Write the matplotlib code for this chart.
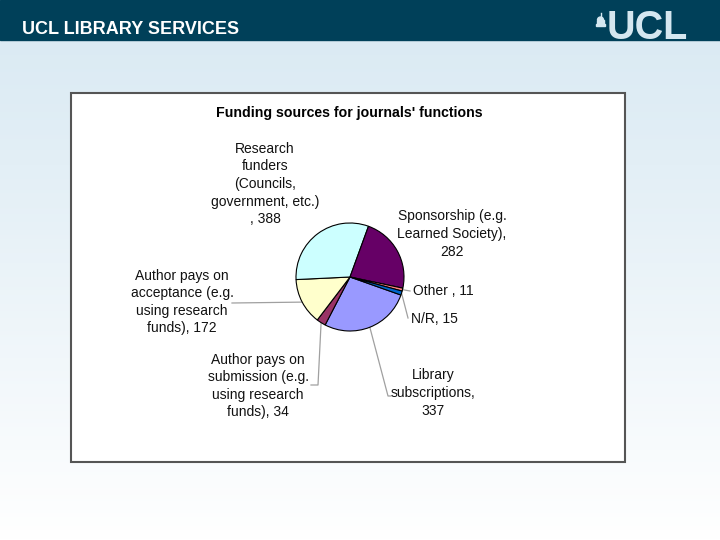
import numpy as np
import matplotlib
matplotlib.use('Agg')
import matplotlib.pyplot as plt
from matplotlib.patches import Rectangle, Wedge

plt.rcParams['font.family'] = ['Liberation Sans', 'DejaVu Sans']

# Dane (kolejnosc serii jak w arkuszu)
kategorie = ['Library\nsubscriptions,\n337',
             'Author pays on\nsubmission (e.g.\nusing research\nfunds), 34',
             'Author pays on\nacceptance (e.g.\nusing research\nfunds), 172',
             'Research\nfunders\n(Councils,\ngovernment, etc.)\n, 388',
             'Sponsorship (e.g.\nLearned Society),\n282',
             'Other , 11',
             'N/R, 15']
wartosci = [337, 34, 172, 388, 282, 11, 15]
kolory = ['#9999FF', '#993366', '#FFFFCC', '#CCFFFF', '#660066', '#FF8080', '#0066CC']
tytul = "Funding sources for journals' functions"

# Uklad (piksele, os y do gory)
W, H = 720, 540
srodek = (350, 263)
promien = 54
# pozycja etykiety, wyrownanie, punkty linii prowadzacej
etykiety = [
    ((433, 147), 'center', [(388, 144), (391, 144)]),
    ((258, 154), 'center', [(318, 155), (311, 155)]),
    ((182, 238), 'center', [(232, 237)]),
    ((265, 356), 'center', None),
    ((452, 306), 'center', None),
    ((413, 249), 'left', [(410, 249)]),
    ((411, 221), 'left', [(408, 222)]),
]

fig = plt.figure(figsize=(7.2, 5.4), dpi=100)
ax = fig.add_axes([0, 0, 1, 1])
ax.set_xlim(0, W)
ax.set_ylim(0, H)
ax.axis('off')

# tlo z gradientem
gora = np.array([0.86, 0.92, 0.955])
dol = np.array([1.0, 1.0, 1.0])
t = np.linspace(0, 1, 256).reshape(-1, 1, 1)
img = gora + (dol - gora) * t ** 1.1
ax.imshow(img, extent=[0, W, 0, H - 40], aspect='auto', origin='upper', zorder=0)

# naglowek
ax.add_patch(Rectangle((0, H - 40), W, 40, color='#004059', zorder=1))
ax.text(22, H - 29, 'UCL LIBRARY SERVICES', color='white', fontsize=13,
        fontweight='bold', ha='left', va='center', zorder=2)
ax.text(607, H - 39, 'UCL', color='#D5E7F0', fontsize=28.5, fontweight='bold',
        ha='left', va='baseline', zorder=2)
# kopula
jasny = '#D5E7F0'
ax.add_patch(Rectangle((596, H - 26), 9, 2, color=jasny, zorder=2))
ax.add_patch(Rectangle((597, H - 24), 7, 4, color=jasny, zorder=2))
ax.add_patch(Wedge((600.5, H - 20), 3, 0, 180, color=jasny, zorder=2))
ax.plot([600.5, 600.5], [H - 17, H - 13], color=jasny, lw=1, zorder=2)

# ramka wykresu
ax.add_patch(Rectangle((71, H - 462), 554, 369, facecolor='white',
                       edgecolor='#555555', lw=1.5, zorder=2))
ax.text(349, H - 113, tytul, fontsize=10.2, fontweight='bold',
        ha='center', va='center', zorder=3)

# wykres kolowy
zacz = 90 - 109.5
kliny, _ = ax.pie(wartosci, colors=kolory, startangle=zacz, counterclock=False,
                  center=srodek, radius=promien, frame=True,
                  wedgeprops=dict(edgecolor='black', linewidth=0.8))
for k in kliny:
    k.set_zorder(3)
ax.set_xlim(0, W)
ax.set_ylim(0, H)
ax.set_aspect('auto')
ax.axis('off')

for k, tekst, (poz, wyr, linia) in zip(kliny, kategorie, etykiety):
    kat = np.deg2rad((k.theta1 + k.theta2) / 2)
    px = srodek[0] + promien * np.cos(kat)
    py = srodek[1] + promien * np.sin(kat)
    if linia is not None:
        xs = [px] + [p[0] for p in linia]
        ys = [py] + [p[1] for p in linia]
        ax.plot(xs, ys, color='#A0A0A0', lw=0.9, zorder=2.5)
    ax.text(poz[0], poz[1], tekst, fontsize=10, ha=wyr, va='center',
            multialignment='center', linespacing=1.33, color='#111111', zorder=4)

fig.savefig('out.png', dpi=100)
